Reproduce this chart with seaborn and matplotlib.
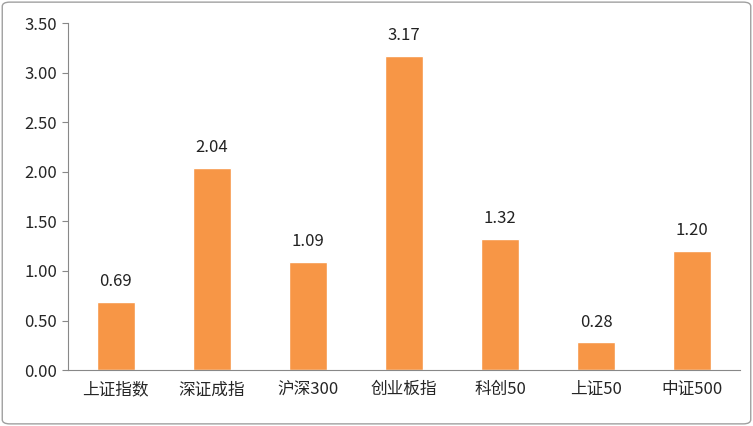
import matplotlib
matplotlib.use("Agg")
import matplotlib.pyplot as plt
import seaborn as sns
import pandas as pd
from matplotlib.patches import FancyBboxPatch

categories = ["上证指数", "深证成指", "沪深300", "创业板指", "科创50", "上证50", "中证500"]
values = [0.69, 2.04, 1.09, 3.17, 1.32, 0.28, 1.20]
yticks = [0.0, 0.5, 1.0, 1.5, 2.0, 2.5, 3.0, 3.5]

sns.set_style("white")
plt.rcParams['font.family'] = ['Noto Sans CJK SC', 'DejaVu Sans']

df = pd.DataFrame({"cat": categories, "val": values})
fig = plt.figure(figsize=(7.53, 4.26), dpi=100)
fig.patches.append(FancyBboxPatch((0.003, 0.005), 0.994, 0.99, boxstyle="round,pad=0,rounding_size=0.01",
                                  transform=fig.transFigure, fill=False, edgecolor="#a0a0a0", lw=1))
ax = fig.add_axes([0.090, 0.131, 0.893, 0.815])
sns.barplot(data=df, x="cat", y="val", color="#F79646", saturation=1, width=0.4, ax=ax)
for i, v in enumerate(values):
    ax.text(i, v + 0.12, f"{v:.2f}", ha="center", va="bottom", fontsize=12, color="#222222")
ax.set_ylim(0, 3.5)
ax.set_yticks(yticks)
ax.set_yticklabels([f"{t:.2f}" for t in yticks], fontsize=12)
ax.tick_params(axis="x", labelsize=12, length=0, pad=8)
ax.tick_params(axis="y", length=4, direction="out", left=True, color="#888888")
ax.set_xlabel("")
ax.set_ylabel("")
for s in ["top", "right"]:
    ax.spines[s].set_visible(False)
for s in ["left", "bottom"]:
    ax.spines[s].set_color("#888888")
ax.set_xlim(-0.5, 6.5)
fig.savefig("out.png", dpi=100)
